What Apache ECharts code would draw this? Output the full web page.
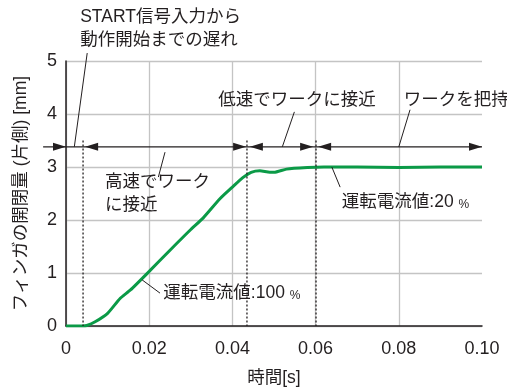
<!DOCTYPE html>
<html>
<head>
<meta charset="utf-8">
<script src="https://cdn.jsdelivr.net/npm/echarts@6/dist/echarts.min.js"></script>
<style>
html, body { margin: 0; padding: 0; background: #fff; }
#chart { width: 507px; height: 392px; }
</style>
</head>
<body>
<div id="chart"></div>
<script>
// Finger opening (one side) vs. time after the START signal
const timeS = [0, 0.004, 0.005, 0.007, 0.010, 0.013, 0.0155, 0.020, 0.025, 0.030, 0.033, 0.037, 0.040, 0.0425, 0.0445, 0.0466, 0.049, 0.050, 0.053, 0.058, 0.062, 0.070, 0.080, 0.090, 0.100];
const openingMm = [0, 0, 0.01, 0.08, 0.24, 0.52, 0.68, 1.03, 1.43, 1.82, 2.04, 2.40, 2.62, 2.80, 2.90, 2.93, 2.90, 2.90, 2.96, 2.99, 3.0, 3.0, 2.99, 3.0, 3.0];

// Level of the phase arrows (mm) and where the first arrow begins (s)
const arrowLevel = 3.38;
const arrowStart = -0.0055;

const INK = '#231f20';
const GREEN = '#0b9a47';
const FONT = '"Liberation Sans", "Noto Sans CJK JP", sans-serif';
const NUMFONT = '"Liberation Sans Narrow", "Liberation Sans", sans-serif';

// Annotations in data coordinates: [t, mm]
const notes = [
  { text: 'START信号入力から', at: [0.0034, 5.83] },
  { text: '動作開始までの遅れ', at: [0.0034, 5.40] },
  { text: '低速でワークに接近', at: [0.0366, 4.26] },
  { text: 'ワークを把持', at: [0.0812, 4.26] },
  { text: '高速でワーク', at: [0.0094, 2.72] },
  { text: 'に接近', at: [0.0094, 2.28] },
  { text: '運転電流値:20 {p|%}', at: [0.0663, 2.34] },
  { text: '運転電流値:100 {p|%}', at: [0.0234, 0.62] }
];
const leaders = [
  [[0.0051, 5.15], [0.0020, arrowLevel]],
  [[0.0238, 3.28], [0.0222, 2.81]],
  [[0.0549, 4.04], [0.0520, arrowLevel]],
  [[0.0827, 4.08], [0.0800, arrowLevel]],
  [[0.0659, 2.62], [0.0639, 3.0]],
  [[0.0183, 0.87], [0.0226, 0.62]]
];
// Arrow tips: [t, direction]  (+1 points right, -1 points left)
const arrowTips = [[0, 1], [0.0046, -1], [0.0433, 1], [0.0442, -1], [0.0594, 1], [0.0606, -1], [0.1, 1]];
// Phase boundaries (s), drawn dotted from dottedTop down to zero
const dottedLines = [0.0041, 0.0435, 0.0601];
const dottedTop = 3.5;

const chart = echarts.init(document.getElementById('chart'));

function renderNotes(params, api) {
  const children = [];
  dottedLines.forEach(t => {
    const a = api.coord([t, dottedTop]);
    const b = api.coord([t, 0]);
    children.push({ type: 'line', shape: { x1: a[0], y1: a[1], x2: b[0], y2: b[1] },
      style: { stroke: INK, lineWidth: 1.3, lineDash: [2, 2] } });
  });
  const s = api.coord([arrowStart, arrowLevel]);
  const e = api.coord([0.1, arrowLevel]);
  children.push({ type: 'line', shape: { x1: s[0], y1: s[1], x2: e[0], y2: e[1] },
    style: { stroke: INK, lineWidth: 1.3 } });
  arrowTips.forEach(([t, dir]) => {
    const p = api.coord([t, arrowLevel]);
    const len = 13, hw = 4;
    children.push({ type: 'polygon', shape: { points: [[p[0], p[1]], [p[0] - dir * len, p[1] - hw], [p[0] - dir * len, p[1] + hw]] },
      style: { fill: INK } });
  });
  leaders.forEach(([p0, p1]) => {
    const a = api.coord(p0), b = api.coord(p1);
    children.push({ type: 'line', shape: { x1: a[0], y1: a[1], x2: b[0], y2: b[1] },
      style: { stroke: INK, lineWidth: 1 } });
  });
  notes.forEach(n => {
    const p = api.coord(n.at);
    children.push({ type: 'text', x: p[0], y: p[1],
      style: { text: n.text, fill: INK, font: '17.5px ' + FONT, align: 'left', verticalAlign: 'middle',
        rich: { p: { fontSize: 12, fontFamily: FONT, fill: INK, verticalAlign: 'bottom' } } } });
  });
  return { type: 'group', children: children };
}

chart.setOption({
  animation: false,
  backgroundColor: '#fff',
  grid: { left: 66, right: 25, top: 61, bottom: 66 },
  xAxis: {
    type: 'value', min: 0, max: 0.1, interval: 0.02,
    name: '時間[s]', nameLocation: 'middle', nameGap: 43,
    nameTextStyle: { color: INK, fontSize: 17.5, fontFamily: FONT },
    axisLine: { lineStyle: { color: INK, width: 1.5 } },
    axisTick: { show: false },
    axisLabel: { color: INK, fontSize: 18, fontFamily: NUMFONT, margin: 14,
      formatter: v => (v === 0 ? '0' : v.toFixed(2)) },
    splitLine: { show: true, showMaxLine: false, lineStyle: { color: '#c4c4c4', width: 1.3 } }
  },
  yAxis: {
    type: 'value', min: 0, max: 5, interval: 1,
    name: 'フィンガの開閉量 (片側) [mm]', nameLocation: 'middle', nameGap: 36, nameRotate: 90,
    nameTextStyle: { color: INK, fontSize: 17.5, fontFamily: FONT },
    axisLine: { show: true, lineStyle: { color: INK, width: 1.5 } },
    axisTick: { show: false },
    axisLabel: { color: INK, fontSize: 18, fontFamily: NUMFONT, margin: 9 },
    splitLine: { show: true, lineStyle: { color: '#c4c4c4', width: 1.3 } }
  },
  series: [
    {
      type: 'line',
      data: timeS.map((t, i) => [t, openingMm[i]]),
      showSymbol: false,
      smooth: 0.2,
      lineStyle: { color: GREEN, width: 3 },
      z: 3
    },
    {
      type: 'custom',
      data: [[0, 0]],
      renderItem: renderNotes,
      clip: false,
      silent: true,
      z: 4
    }
  ]
});
</script>
</body>
</html>
